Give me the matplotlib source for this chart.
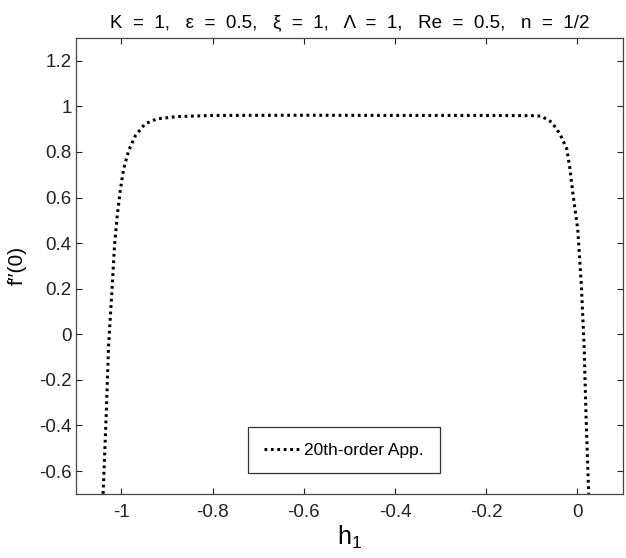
import matplotlib.pyplot as plt

plt.rcParams['font.family'] = ['Liberation Sans', 'DejaVu Sans']
plt.rcParams['mathtext.default'] = 'regular'

# values (h_1, f''(0))
h1 = [-1.040, -1.033, -1.028, -1.020, -1.015, -1.009, -1.002, -0.995, -0.984,
      -0.969, -0.948, -0.922, -0.878, -0.800, -0.600, -0.400, -0.200, -0.100,
      -0.079, -0.056, -0.038, -0.023, -0.016, -0.009, 0.001, 0.009, 0.015,
      0.019, 0.025]
fpp = [-0.70, -0.344, -0.05, 0.212, 0.388, 0.52, 0.637, 0.725, 0.806,
       0.872, 0.923, 0.945, 0.955, 0.960, 0.961, 0.960, 0.960, 0.959,
       0.957, 0.930, 0.879, 0.813, 0.725, 0.608, 0.462, 0.212, -0.051,
       -0.344, -0.70]
xticks = [-1, -0.8, -0.6, -0.4, -0.2, 0]
yticks = [-0.6, -0.4, -0.2, 0, 0.2, 0.4, 0.6, 0.8, 1, 1.2]

fig = plt.figure(figsize=(6.26, 5.58), dpi=100)
ax = fig.add_axes([0.121, 0.115, 0.874, 0.817])

ax.plot(h1, fpp, color='black', lw=2.2, linestyle=(0, (0.9, 1.2)),
        label='20th-order App.')

ax.set_xlim(-1.1, 0.1)
ax.set_ylim(-0.7, 1.3)
ax.set_xticks(xticks)
ax.set_yticks(yticks)
ax.set_xticklabels(['-1', '-0.8', '-0.6', '-0.4', '-0.2', '0'])
ax.set_yticklabels(['-0.6', '-0.4', '-0.2', '0', '0.2', '0.4', '0.6', '0.8', '1', '1.2'])
ax.tick_params(direction='in', top=True, right=True, length=4, width=0.8,
               labelsize=13.5, colors='#222222')
ax.tick_params(axis='x', pad=7)
ax.tick_params(axis='y', pad=3)
for s in ax.spines.values():
    s.set_color('#444444')
    s.set_linewidth(0.9)

ax.set_xlabel('h$_1$', fontsize=18, labelpad=2)
ax.set_ylabel('f\u2032\u2032(0)', fontsize=15, labelpad=9)
ax.set_title('K  =  1,   \u03b5  =  0.5,   \u03be  =  1,   \u039b  =  1,   '
             'Re  =  0.5,   n  =  1/2', fontsize=13.5, pad=8)

leg = ax.legend(loc='lower center', bbox_to_anchor=(0.49, 0.026), fontsize=12.5,
                fancybox=False, edgecolor='#333333', framealpha=1,
                handlelength=2.1, handletextpad=0.25, borderpad=0.9)
leg.get_frame().set_linewidth(0.9)

fig.savefig('out.png', dpi=100, facecolor='white')
